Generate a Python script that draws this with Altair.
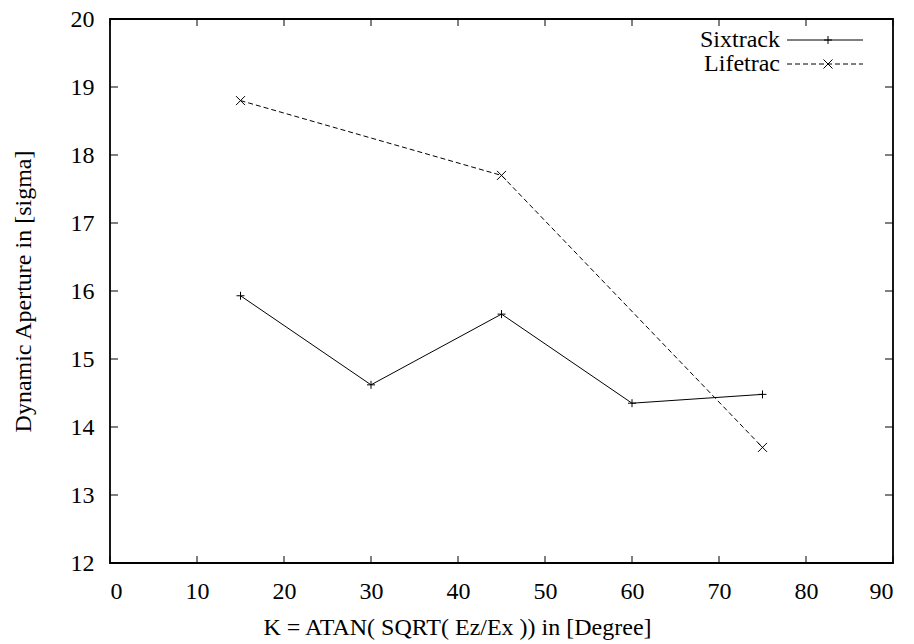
import altair as alt
import pandas as pd

six_x = [15, 30, 45, 60, 75]
six_y = [15.93, 14.62, 15.66, 14.35, 14.48]
life_x = [15, 45, 75]
life_y = [18.80, 17.70, 13.70]
x_ticks = [0, 10, 20, 30, 40, 50, 60, 70, 80, 90]
y_ticks = [12, 13, 14, 15, 16, 17, 18, 19, 20]

W, H = 783, 544
FONT = "Liberation Serif"
FS = 24
PLUS = "M-1,0L1,0M0,-1L0,1"
CROSS = "M-1,-1L1,1M-1,1L1,-1"
DASH = [5, 3]

six = pd.DataFrame({"k": six_x, "da": six_y})
life = pd.DataFrame({"k": life_x, "da": life_y})
xt = pd.DataFrame({"v": x_ticks})
yt = pd.DataFrame({"v": y_ticks})

xs = alt.Scale(domain=[0, 90], nice=False, zero=False)
ys = alt.Scale(domain=[12, 20], nice=False, zero=False)

xaxis = alt.Axis(values=x_ticks, format="d", tickSize=0, labelPadding=16, grid=False,
                 domain=False, labelFont=FONT, labelFontSize=FS, labelColor="black",
                 titleFont=FONT, titleFontSize=FS, titleFontWeight="normal",
                 titleColor="black", titlePadding=12, titleX=347, titleAlign="center",
                 titleAnchor="start")
yaxis = alt.Axis(values=y_ticks, format="d", tickSize=0, labelPadding=16, grid=False,
                 domain=False, labelFont=FONT, labelFontSize=FS, labelColor="black",
                 titleFont=FONT, titleFontSize=FS, titleFontWeight="normal",
                 titleColor="black", titlePadding=35)

X = alt.X("k:Q", scale=xs, axis=xaxis, title="K = ATAN( SQRT( Ez/Ex )) in [Degree]")
Y = alt.Y("da:Q", scale=ys, axis=yaxis, title="Dynamic Aperture in [sigma]")

six_line = alt.Chart(six).mark_line(color="black", strokeWidth=1).encode(x=X, y=Y)
six_pts = alt.Chart(six).mark_point(shape=PLUS, size=64, color="black",
                                    strokeWidth=1, filled=False, opacity=1).encode(
    x=alt.X("k:Q", scale=xs), y=alt.Y("da:Q", scale=ys))
life_line = alt.Chart(life).mark_line(color="black", strokeWidth=1,
                                      strokeDash=DASH).encode(
    x=alt.X("k:Q", scale=xs), y=alt.Y("da:Q", scale=ys))
life_pts = alt.Chart(life).mark_point(shape=CROSS, size=81, color="black",
                                      strokeWidth=1, filled=False, opacity=1).encode(
    x=alt.X("k:Q", scale=xs), y=alt.Y("da:Q", scale=ys))

# inward ticks on all four sides
tb = alt.Chart(xt).mark_rule(color="black", strokeWidth=1).encode(
    x=alt.X("v:Q", scale=xs), y=alt.value(H), y2=alt.value(H - 7))
tt = alt.Chart(xt).mark_rule(color="black", strokeWidth=1).encode(
    x=alt.X("v:Q", scale=xs), y=alt.value(0), y2=alt.value(7))
tl = alt.Chart(yt).mark_rule(color="black", strokeWidth=1).encode(
    y=alt.Y("v:Q", scale=ys), x=alt.value(0), x2=alt.value(8))
tr = alt.Chart(yt).mark_rule(color="black", strokeWidth=1).encode(
    y=alt.Y("v:Q", scale=ys), x=alt.value(W), x2=alt.value(W - 8))

# legend (top right, inside the frame)
LY1, LY2 = 21, 45
leg_t1 = alt.Chart(pd.DataFrame({"s": ["Sixtrack"]})).mark_text(
    align="right", baseline="middle", font=FONT, fontSize=FS, color="black").encode(
    text="s:N", x=alt.value(670), y=alt.value(LY1))
leg_t2 = alt.Chart(pd.DataFrame({"s": ["Lifetrac"]})).mark_text(
    align="right", baseline="middle", font=FONT, fontSize=FS, color="black").encode(
    text="s:N", x=alt.value(670), y=alt.value(LY2))
leg_l1 = alt.Chart(pd.DataFrame({"s": ["Sixtrack"]})).mark_rule(
    color="black", strokeWidth=1).encode(x=alt.value(677), x2=alt.value(753), y=alt.value(LY1))
leg_l2 = alt.Chart(pd.DataFrame({"s": ["Lifetrac"]})).mark_rule(
    color="black", strokeWidth=1, strokeDash=DASH).encode(
    x=alt.value(677), x2=alt.value(753), y=alt.value(LY2))
leg_p1 = alt.Chart(pd.DataFrame({"s": ["Sixtrack"]})).mark_point(
    shape=PLUS, size=64, color="black", strokeWidth=1, filled=False, opacity=1).encode(
    x=alt.value(718), y=alt.value(LY1))
leg_p2 = alt.Chart(pd.DataFrame({"s": ["Lifetrac"]})).mark_point(
    shape=CROSS, size=81, color="black", strokeWidth=1, filled=False, opacity=1).encode(
    x=alt.value(718), y=alt.value(LY2))

chart = alt.layer(
    six_line, life_line, six_pts, life_pts, tb, tt, tl, tr,
    leg_t1, leg_t2, leg_l1, leg_l2, leg_p1, leg_p2
).properties(
    width=W, height=H,
    autosize=alt.AutoSizeParams(type="none"),
    padding={"left": 110, "top": 19, "right": 21, "bottom": 81},
    background="white"
).configure_view(stroke="black", strokeWidth=1.8)

chart.save("out.html", embed_options={"renderer": "svg", "actions": False})
